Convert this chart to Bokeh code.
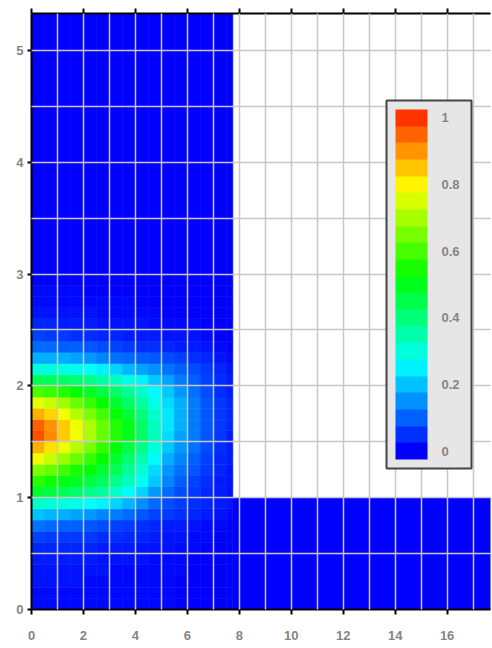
import colorsys
from bokeh.plotting import figure
from bokeh.models import (LinearColorMapper, ColorBar, FixedTicker, LinearAxis,
                          NumeralTickFormatter, ColumnDataSource, Range1d)
from bokeh.transform import transform
from bokeh.embed import file_html
from bokeh.resources import INLINE

# ---------------- data ----------------
# columns of the computed field (x bin edges), left leg of the L-shaped domain
x_edges = [0, 0.5, 1.0, 1.5, 2.0, 2.5, 3.0, 3.5, 4.0, 4.5, 5.0, 5.5, 6.0, 6.5, 7.0, 7.5, 7.75]
# rows of the field (y bin edges), 0 .. 3.0 by 0.1, then one band up to the top
y_edges = [round(0.1 * i, 2) for i in range(31)] + [5.4]

# one list per row (bottom to top), values per x bin
row_0_05 = [.01, .01, .01, .01, .01, .01, .01, .01, .01, .01, .01, 0, 0, 0, 0, 0]
row_0_15 = [.01, .01, .01, .01, .01, .01, .01, .01, .01, .01, .01, 0, 0, 0, 0, 0]
row_0_25 = [.02, .02, .02, .02, .01, .01, .01, .01, .01, .01, .01, 0, 0, 0, 0, 0]
row_0_35 = [.02, .02, .02, .02, .02, .02, .01, .01, .01, .01, .01, .01, 0, 0, 0, 0]
row_0_45 = [.03, .03, .03, .03, .03, .02, .02, .02, .02, .01, .01, .01, 0, 0, 0, 0]
row_0_55 = [.04, .04, .04, .04, .04, .03, .03, .03, .02, .02, .02, .01, .01, 0, 0, 0]
row_0_65 = [.07, .06, .06, .06, .06, .05, .05, .04, .04, .03, .02, .02, .01, .01, 0, 0]
row_0_75 = [.12, .11, .10, .10, .09, .08, .07, .06, .05, .04, .03, .03, .02, .01, .01, 0]
row_0_85 = [.20, .19, .18, .17, .16, .14, .13, .11, .09, .07, .06, .05, .04, .03, .02, .01]
row_0_95 = [.32, .31, .30, .29, .27, .25, .22, .19, .15, .11, .08, .06, .05, .04, .03, .02]
row_1_05 = [.48, .46, .44, .42, .39, .36, .32, .27, .22, .16, .11, .08, .06, .04, .03, .02]
row_1_15 = [.57, .54, .51, .49, .46, .43, .39, .33, .28, .21, .14, .10, .07, .05, .03, .02]
row_1_25 = [.66, .63, .59, .55, .52, .48, .44, .37, .31, .23, .16, .12, .09, .06, .04, .02]
row_1_35 = [.77, .73, .68, .63, .58, .53, .48, .41, .34, .26, .18, .14, .10, .07, .04, .03]
row_1_45 = [.87, .82, .77, .71, .65, .58, .52, .46, .39, .30, .21, .16, .12, .08, .05, .03]
row_1_55 = [.97, .91, .84, .77, .70, .63, .56, .50, .42, .33, .23, .17, .13, .09, .06, .03]
row_1_65 = [.95, .90, .84, .77, .70, .63, .56, .50, .42, .33, .24, .18, .13, .09, .06, .04]
row_1_75 = [.87, .83, .78, .71, .65, .59, .53, .47, .40, .32, .24, .18, .13, .09, .06, .04]
row_1_85 = [.76, .73, .69, .63, .58, .53, .48, .42, .36, .29, .23, .18, .13, .09, .06, .04]
row_1_95 = [.60, .58, .56, .52, .49, .46, .42, .37, .32, .26, .21, .16, .12, .08, .05, .03]
row_2_05 = [.44, .43, .42, .41, .39, .36, .33, .29, .25, .21, .17, .13, .10, .07, .05, .03]
row_2_15 = [.30, .30, .29, .28, .27, .25, .22, .19, .17, .15, .12, .10, .08, .06, .04, .02]
row_2_25 = [.18, .18, .18, .17, .16, .14, .12, .11, .10, .09, .08, .07, .05, .04, .02, .01]
row_2_35 = [.11, .11, .10, .10, .09, .08, .07, .06, .05, .05, .04, .03, .03, .02, .01, 0]
row_2_45 = [.07, .06, .06, .05, .05, .04, .04, .03, .03, .03, .02, .02, .02, .01, 0, 0]
row_2_55 = [.04, .04, .03, .03, .03, .02, .02, .02, .02, .01, .01, .01, .01, 0, 0, 0]
row_2_65 = [.02, .02, .02, .02, .02, .01, .01, .01, .01, .01, 0, 0, 0, 0, 0, 0]
row_2_75 = [.01, .01, .01, .01, .01, .01, .01, .01, 0, 0, 0, 0, 0, 0, 0, 0]
row_2_85 = [.01, .01, .01, .01, 0, 0, 0, 0, 0, 0, 0, 0, 0, 0, 0, 0]
row_2_95 = [0] * 16
row_top = [0] * 16

rows = [row_0_05, row_0_15, row_0_25, row_0_35, row_0_45, row_0_55, row_0_65,
        row_0_75, row_0_85, row_0_95, row_1_05, row_1_15, row_1_25, row_1_35,
        row_1_45, row_1_55, row_1_65, row_1_75, row_1_85, row_1_95, row_2_05,
        row_2_15, row_2_25, row_2_35, row_2_45, row_2_55, row_2_65, row_2_75,
        row_2_85, row_2_95, row_top]

# bottom leg of the L-shaped domain (x 7.75 .. end, y 0 .. 1): value 0
strip_x = [7.75, 18.0]
strip_y = [0.0, 1.0]
strip_value = 0.0

# ticks
x_ticks = [0, 2, 4, 6, 8, 10, 12, 14, 16]
y_ticks = [0, 1, 2, 3, 4, 5]
x_grid = list(range(1, 18))
y_grid = [0.5 * i for i in range(1, 11)]
bar_ticks = [0, 0.2, 0.4, 0.6, 0.8, 1]

# ---------------- build cell table ----------------
L, R, B, T, V = [], [], [], [], []
for j, row in enumerate(rows):
    for i, v in enumerate(row):
        L.append(x_edges[i]); R.append(x_edges[i + 1])
        B.append(y_edges[j]); T.append(y_edges[j + 1])
        V.append(v)
L.append(strip_x[0]); R.append(strip_x[1]); B.append(strip_y[0]); T.append(strip_y[1]); V.append(strip_value)
src = ColumnDataSource(dict(left=L, right=R, bottom=B, top=T, value=V))


def hue_color(v):
    h = (240.0 - 228.0 * v) / 360.0
    r, g, b = colorsys.hsv_to_rgb(h, 1.0, 1.0)
    return "#%02x%02x%02x" % (int(round(r * 255)), int(round(g * 255)), int(round(b * 255)))


heat_palette = [hue_color(k / 255.0) for k in range(256)]
bar_palette = [hue_color(k / 20.0) for k in range(21)]
heat_mapper = LinearColorMapper(palette=heat_palette, low=0, high=1)
bar_mapper = LinearColorMapper(palette=bar_palette, low=-0.025, high=1.025)

FONT = "Liberation Sans"
LABEL_COLOR = "#858585"

p = figure(width=492, height=648, x_range=Range1d(0, 17.67), y_range=Range1d(0, 5.33),
           output_backend="svg", toolbar_location=None,
           min_border_left=31, min_border_right=2, min_border_top=13, min_border_bottom=39)
p.background_fill_color = "white"
p.border_fill_color = "white"
p.outline_line_color = None

p.quad(left="left", right="right", bottom="bottom", top="top", source=src,
       fill_color=transform("value", heat_mapper),
       line_color=transform("value", heat_mapper), line_width=0.6)

bottom_axis = p.below[0]
left_axis = p.left[0]
bottom_axis.ticker = FixedTicker(ticks=x_ticks)
left_axis.ticker = FixedTicker(ticks=y_ticks)
top_axis = LinearAxis(ticker=FixedTicker(ticks=x_ticks),
                      major_label_overrides={t: "" for t in x_ticks})
p.add_layout(top_axis, "above")

for ax in [bottom_axis, left_axis, top_axis]:
    ax.axis_line_color = "black"
    ax.axis_line_width = 2
    ax.major_tick_line_color = "black"
    ax.major_tick_line_width = 2
    ax.major_tick_out = 5
    ax.major_tick_in = 0
    ax.minor_tick_line_color = None
    ax.major_label_text_font = FONT
    ax.major_label_text_font_style = "bold"
    ax.major_label_text_color = LABEL_COLOR
    ax.major_label_text_font_size = "13px"
top_axis.major_label_text_font_size = "1px"
top_axis.major_label_standoff = 0
bottom_axis.major_label_standoff = 16
left_axis.major_label_standoff = 4
left_axis.major_tick_out = 4

p.xgrid.ticker = FixedTicker(ticks=x_grid)
p.ygrid.ticker = FixedTicker(ticks=y_grid)
for g in [p.xgrid[0], p.ygrid[0]]:
    g.grid_line_color = "#C8C8C8"
    g.grid_line_width = 1.5
    g.level = "guide"

cbar = ColorBar(color_mapper=bar_mapper, ticker=FixedTicker(ticks=bar_ticks),
                formatter=NumeralTickFormatter(format="0.[0]"),
                width=32, height=350, location=(355, 141), padding=9, label_standoff=14,
                background_fill_color="#E6E6E6", background_fill_alpha=1.0,
                border_line_color="#454545", border_line_width=2,
                major_tick_line_color=None, minor_tick_line_color=None, bar_line_color=None,
                major_label_text_font=FONT, major_label_text_font_style="bold",
                major_label_text_align="center",
                major_label_text_color=LABEL_COLOR, major_label_text_font_size="13px")
p.add_layout(cbar, "center")

open("out.html", "w").write(file_html(p, INLINE))
